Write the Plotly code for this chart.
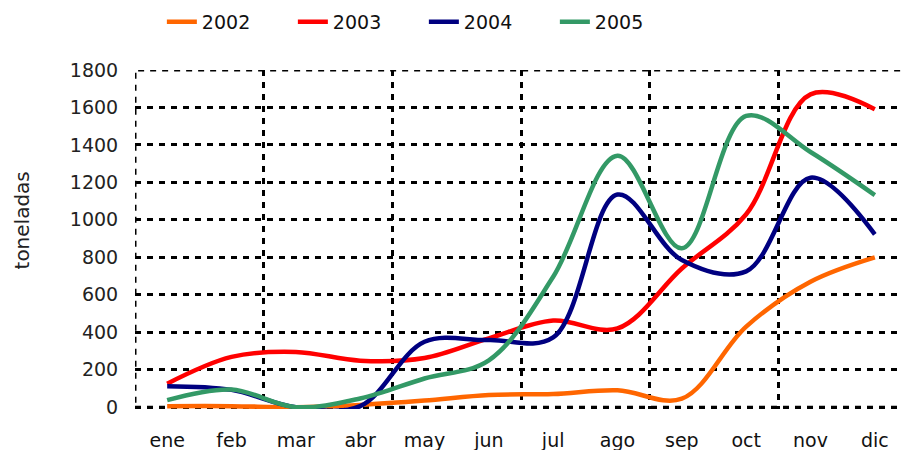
import plotly.graph_objects as go

months = ["ene", "feb", "mar", "abr", "may", "jun", "jul", "ago", "sep", "oct", "nov", "dic"]
y2002 = [5, 5, 0, 12, 35, 65, 70, 90, 45, 430, 670, 800]
y2003 = [125, 268, 295, 248, 262, 367, 462, 420, 740, 1030, 1670, 1590]
y2004 = [112, 92, 0, 5, 349, 358, 372, 1135, 785, 725, 1225, 922]
y2005 = [37, 94, 0, 46, 153, 250, 696, 1342, 848, 1555, 1362, 1132]
years = ["2002", "2003", "2004", "2005"]
colors = ["#FF6600", "#FF0000", "#000080", "#339966"]
series = [y2002, y2003, y2004, y2005]
yticks = list(range(0, 1801, 200))
ytitle = "toneladas"

xpos = list(range(len(months)))
fig = go.Figure()
for name, vals, col in zip(years, series, colors):
    fig.add_trace(go.Scatter(x=xpos, y=vals, name=name, mode="lines",
                             line=dict(color=col, width=4.5, shape="spline", smoothing=1.0)))

font = "DejaVu Sans"
dash = "6px,6px"
grid = dict(gridcolor="black", gridwidth=3, griddash=dash)
fig.add_shape(type="rect", xref="x", yref="y", x0=-0.5, x1=11.5, y0=0, y1=1800,
              line=dict(color="black", width=3, dash=dash), layer="below")
fig.add_annotation(text=ytitle, textangle=-90, xref="paper", yref="paper",
                   x=-0.146, y=0.557, xanchor="center", yanchor="middle", showarrow=False,
                   font=dict(size=20, color="#222"))
fig.update_layout(
    width=910, height=450,
    margin=dict(l=127, r=11, t=62, b=49),
    paper_bgcolor="white", plot_bgcolor="white",
    font=dict(family=font, size=19, color="#222"),
    showlegend=True,
    legend=dict(orientation="h", xref="container", x=0.457, xanchor="center",
                yref="container", y=0.969, yanchor="middle",
                font=dict(size=19, color="#111"), entrywidth=86, entrywidthmode="pixels",
                bgcolor="rgba(0,0,0,0)"),
    xaxis=dict(range=[-0.5, 11.5], tickmode="array", tickvals=xpos, ticktext=months,
               showgrid=False, zeroline=False, showline=False, automargin=False,
               ticks="outside", ticklen=14, tickcolor="rgba(0,0,0,0)",
               tickfont=dict(size=19, color="#111"),
               minor=dict(tickmode="array", tickvals=[i - 0.5 for i in range(2, 12, 2)],
                          showgrid=True, ticks="", **grid)),
    yaxis=dict(range=[-10, 1800], tickmode="array", tickvals=yticks,
               showgrid=True, zeroline=False, showline=False, automargin=False, **grid,
               ticks="outside", ticklen=12, tickcolor="rgba(0,0,0,0)",
               tickfont=dict(size=19, color="#222")),
)
fig.write_html("out.html")
